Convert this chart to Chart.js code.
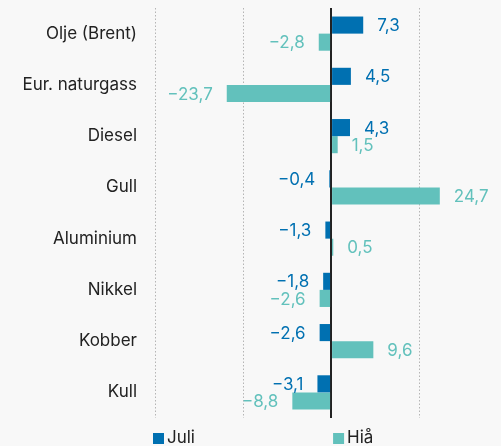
<!DOCTYPE html>
<html>
<head>
<meta charset="utf-8">
<script src="https://cdn.jsdelivr.net/npm/chart.js@4.4.1/dist/chart.umd.min.js"></script>
<style>
  html, body { margin: 0; padding: 0; background: #f8f8f8; }
  #wrap { width: 501px; height: 446px; }
</style>
</head>
<body>
<div id="wrap"><canvas id="chart"></canvas></div>
<script>
// data
const categories = ['Olje (Brent)', 'Eur. naturgass', 'Diesel', 'Gull', 'Aluminium', 'Nikkel', 'Kobber', 'Kull'];
const juli = [7.3, 4.5, 4.3, -0.4, -1.3, -1.8, -2.6, -3.1];
const hia = [-2.8, -23.7, 1.5, 24.7, 0.5, -2.6, 9.6, -8.8];
const seriesNames = ['Juli', 'Hiå'];
const gridTicks = [-40, -20, 0, 20];

const blue = '#0070b1';
const teal = '#62c1bc';
const font = 'Inter, "DejaVu Sans", sans-serif';

function fmt(v) {
    return v.toFixed(1).replace('.', ',').replace('-', '\u2212');
}

// bakgrunn
const bgPlugin = {
    id: 'bg',
    beforeDraw(chart) {
        const c = chart.ctx;
        c.save();
        c.fillStyle = '#f8f8f8';
        c.fillRect(0, 0, chart.width, chart.height);
        c.restore();
    }
};

// verdier ved enden av stolpene
const valueLabels = {
    id: 'valueLabels',
    afterDatasetsDraw(chart) {
        const c = chart.ctx;
        c.save();
        c.font = '17px ' + font;
        c.textBaseline = 'middle';
        chart.data.datasets.forEach((ds, i) => {
            const meta = chart.getDatasetMeta(i);
            meta.data.forEach((bar, j) => {
                const v = ds.data[j];
                c.fillStyle = ds.labelColor;
                if (v >= 0) {
                    c.textAlign = 'left';
                    c.fillText(fmt(v), bar.x + 14, bar.y + 1);
                } else {
                    c.textAlign = 'right';
                    c.fillText(fmt(v), bar.x - 14, bar.y + 1);
                }
            });
        });
        c.restore();
    }
};

// egen forklaring nederst
const legendPlugin = {
    id: 'customLegend',
    afterDraw(chart) {
        const c = chart.ctx;
        const x = chart.scales.x;
        const spots = [x.getPixelForValue(-40) - 2, x.getPixelForValue(0) + 2];
        c.save();
        c.font = '17px ' + font;
        c.textBaseline = 'middle';
        c.textAlign = 'left';
        chart.data.datasets.forEach((ds, i) => {
            const lx = spots[i];
            c.fillStyle = ds.backgroundColor;
            c.fillRect(lx, 433, 11, 11);
            c.fillStyle = '#222';
            c.fillText(ds.label, lx + 14, 438);
        });
        c.restore();
    }
};

const ctx = document.getElementById('chart').getContext('2d');
const chart = new Chart(ctx, {
    type: 'bar',
    data: {
        labels: categories,
        datasets: [
            { label: seriesNames[0], data: juli, backgroundColor: blue, labelColor: blue },
            { label: seriesNames[1], data: hia, backgroundColor: teal, labelColor: teal }
        ]
    },
    options: {
        indexAxis: 'y',
        responsive: true,
        maintainAspectRatio: false,
        animation: false,
        categoryPercentage: 0.667,
        barPercentage: 1,
        layout: { padding: { top: 8, bottom: 28, left: 0, right: 0 } },
        plugins: {
            legend: { display: false },
            tooltip: { enabled: false }
        },
        scales: {
            x: {
                min: -40,
                max: 38.6,
                afterBuildTicks: (scale) => {
                    scale.ticks = gridTicks.map(v => ({ value: v }));
                },
                afterFit: (scale) => {
                    scale.height = 0;
                    scale.paddingLeft = 0;
                    scale.paddingRight = 0;
                },
                ticks: { display: false, padding: 0 },
                border: {
                    display: false,
                    dash: (c) => c.tick && c.tick.value === 0 ? [] : [1.5, 2]
                },
                grid: {
                    drawTicks: false,
                    color: (c) => c.tick && c.tick.value === 0 ? '#222' : '#b5b5b5',
                    lineWidth: (c) => c.tick && c.tick.value === 0 ? 2 : 1
                }
            },
            y: {
                afterFit: (scale) => {
                    scale.width = 155;
                    scale.paddingTop = 0;
                    scale.paddingBottom = 0;
                },
                border: { display: false },
                grid: { display: false, drawTicks: false },
                ticks: {
                    padding: 18,
                    color: '#222',
                    font: { family: font, size: 17 }
                }
            }
        }
    },
    plugins: [bgPlugin, valueLabels, legendPlugin]
});
</script>
</body>
</html>
